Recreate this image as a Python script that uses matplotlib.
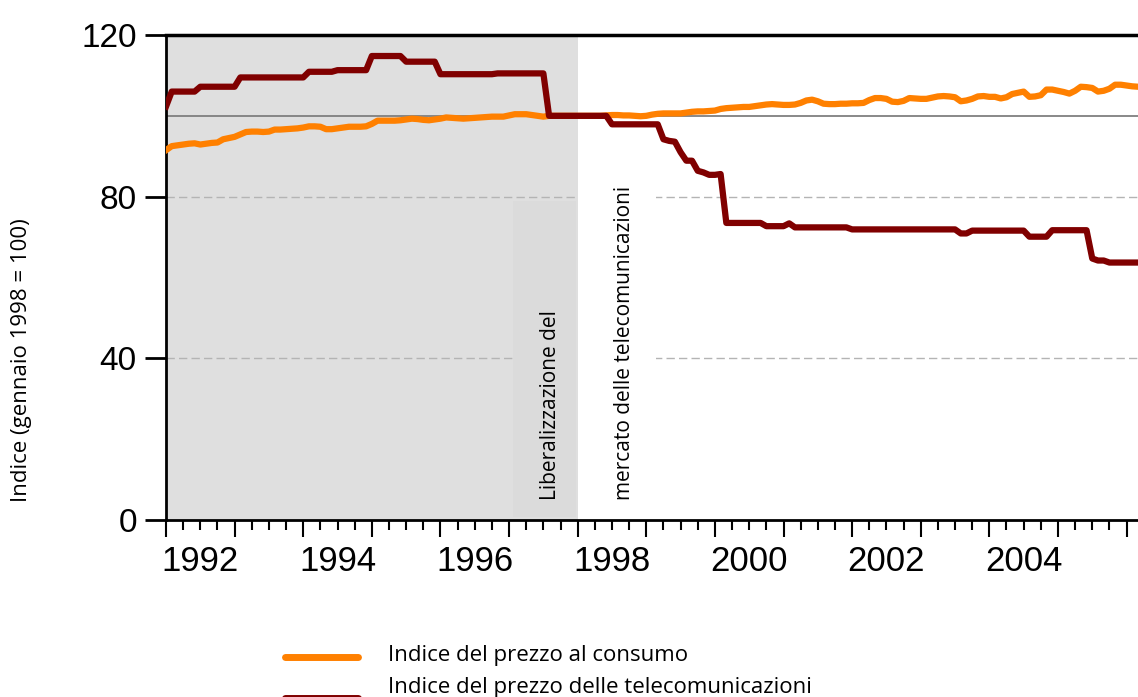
import matplotlib
matplotlib.use("Agg")
import matplotlib.pyplot as plt
import matplotlib.transforms as mtransforms
from matplotlib.lines import Line2D
import numpy as np

plt.rcParams['font.family'] = ['Open Sans', 'DejaVu Sans']

# monthly values, January 1992 onwards
start_year = 1992
cpi = [91.5, 92.5, 92.7, 92.9, 93.1, 93.2, 92.9, 93.1, 93.3, 93.4, 94.2, 94.5,
       94.8, 95.4, 96.0, 96.1, 96.1, 96.0, 96.1, 96.6, 96.6, 96.7, 96.8, 96.9,
       97.1, 97.4, 97.4, 97.3, 96.7, 96.7, 96.9, 97.1, 97.3, 97.3, 97.3, 97.4,
       98.0, 98.8, 98.8, 98.8, 98.8, 98.9, 99.1, 99.3, 99.2, 99.0, 98.9, 99.1,
       99.3, 99.6, 99.5, 99.4, 99.3, 99.4, 99.5, 99.6, 99.7, 99.8, 99.8, 99.8,
       100.1, 100.4, 100.4, 100.4, 100.2, 100.0, 99.8, 100.0, 100.0, 100.0, 100.0, 100.0,
       100.0, 100.0, 100.0, 100.0, 100.0, 100.1, 100.2, 100.2, 100.1, 100.1, 100.0, 99.9,
       100.0, 100.3, 100.5, 100.6, 100.6, 100.6, 100.6, 100.8, 101.0, 101.1, 101.1, 101.2,
       101.3, 101.7, 101.9, 102.0, 102.1, 102.2, 102.2, 102.4, 102.6, 102.8, 102.9, 102.8,
       102.7, 102.7, 102.8, 103.2, 103.8, 104.0, 103.6, 103.0, 102.9, 102.9, 103.0, 103.0,
       103.1, 103.1, 103.2, 103.9, 104.4, 104.4, 104.2, 103.5, 103.4, 103.7, 104.4, 104.3,
       104.2, 104.2, 104.5, 104.8, 104.9, 104.8, 104.6, 103.6, 103.8, 104.2, 104.8, 104.9,
       104.7, 104.7, 104.3, 104.6, 105.4, 105.7, 106.0, 104.7, 104.8, 105.1, 106.5, 106.5,
       106.2, 105.9, 105.5, 106.2, 107.2, 107.1, 106.9, 106.0, 106.2, 106.7, 107.7, 107.7,
       107.5, 107.3, 107.2]

telecom = ([102.3] + [106.0] * 5 + [107.2] * 7 + [109.5] * 12 + [110.9] * 5
           + [111.3] * 6 + [114.8] * 6 + [113.4] * 6 + [110.3] * 10 + [110.5] * 9
           + [100.0] * 11 + [97.9] * 9 + [94.2, 93.8, 93.6, 91.0, 88.9, 88.9]
           + [86.4, 86.0, 85.4, 85.4, 85.6] + [73.5] * 7 + [72.7] * 4 + [73.4]
           + [72.4] * 10 + [71.9] * 19 + [70.9] * 2 + [71.6] * 10 + [70.1] * 4
           + [71.7] * 7 + [64.7] + [64.2] * 2 + [63.7] * 6)

labels = ['Indice del prezzo al consumo', 'Indice del prezzo delle telecomunicazioni']
year_labels = ['1992', '', '1994', '', '1996', '', '1998', '', '2000', '', '2002', '', '2004', '', '']
yticks = [0, 40, 80, 120]

orange = '#ff8000'
darkred = '#800000'

x = start_year + np.arange(len(cpi)) / 12.0

fig = plt.figure(figsize=(11.38, 6.97), dpi=100)
ax = fig.add_axes([166 / 1138, 1 - 520 / 697, 1 - 166 / 1138, 485 / 697])

ax.set_xlim(x[0], x[-1])
ax.set_ylim(0, 120)

# shaded period before liberalisation and the label boxes
ax.axvspan(1992, 1998, color='#dfdfdf', lw=0, zorder=0)
ax.axvspan(1997.06, 1997.98, ymin=0.006, ymax=0.658, color='#dbdbdb', lw=0, zorder=1.5)
ax.axvspan(1998.02, 1999.14, ymin=0.0, ymax=0.69, color='white', lw=0, zorder=1.5)

for v in (40, 80):
    ax.axhline(v, color='#b4b4b4', lw=1, ls=(0, (6, 3)), zorder=1)
ax.axhline(100, color='#7f7f7f', lw=1.3, zorder=2)

ax.plot(x, cpi, color=orange, lw=4.5, zorder=3)
ax.plot(x, telecom, color=darkred, lw=4.5, zorder=4)

ax.text(1997.60, 5, 'Liberalizzazione del', rotation=90, ha='center', va='bottom',
        fontsize=15, zorder=2)
ax.text(1998.68, 5, 'mercato delle telecomunicazioni', rotation=90, ha='center', va='bottom',
        fontsize=15, zorder=2)

# axes styling
for s in ('left', 'bottom'):
    ax.spines[s].set_linewidth(2)
ax.spines['top'].set_linewidth(2.5)
ax.spines['right'].set_visible(False)

ax.set_yticks(yticks)
ax.tick_params(axis='y', length=15, width=2, pad=6, labelsize=24, labelfontfamily='Liberation Sans')

years = np.arange(1992, 2007)
ax.set_xticks(years)
ax.set_xticklabels(year_labels)
ax.set_xticks(np.arange(1992, 2006.2, 0.25), minor=True)
ax.tick_params(axis='x', which='major', length=12, width=1.5, pad=6, labelsize=25,
               labelfontfamily='Liberation Sans')
ax.tick_params(axis='x', which='minor', length=7, width=1.5)

# year labels sit in the middle of the year
half = ax.transData.transform((1992.5, 0))[0] - ax.transData.transform((1992, 0))[0]
offset = mtransforms.ScaledTranslation(half / fig.dpi, 0, fig.dpi_scale_trans)
for lab in ax.get_xticklabels():
    lab.set_transform(lab.get_transform() + offset)

fig.text(22 / 1138, 1 - 360 / 697, 'Indice (gennaio 1998 = 100)', rotation=90,
         ha='center', va='center', fontsize=16)

# legend below the plot
for i, (lab, col) in enumerate(zip(labels, [orange, darkred])):
    yl = 1 - (657 + 41 * i) / 697
    fig.add_artist(Line2D([285 / 1138, 358 / 1138], [yl, yl], transform=fig.transFigure,
                          color=col, lw=5, solid_capstyle='round'))
    fig.text(388 / 1138, 1 - (655 + 32 * i) / 697, lab, va='center', fontsize=16)

fig.savefig('out.png', dpi=100)
